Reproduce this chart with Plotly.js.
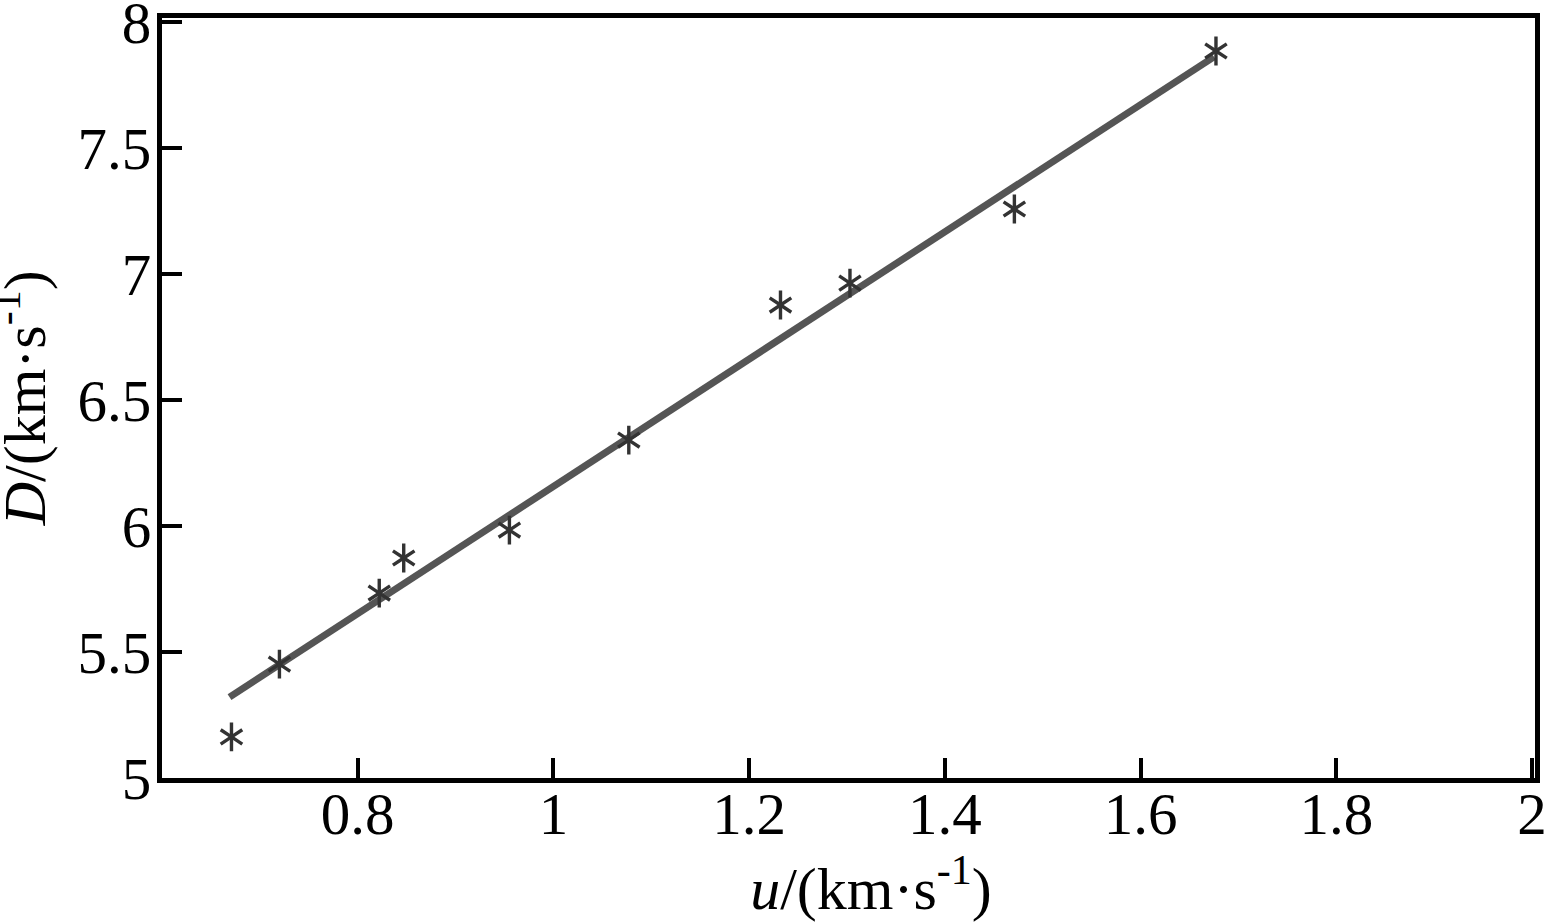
<!DOCTYPE html>
<html>
<head>
<meta charset="utf-8">
<script src="https://cdn.plot.ly/plotly-3.0.1.min.js"></script>
<style>
  html, body { margin: 0; padding: 0; background: #fff; }
  #chart { width: 1549px; height: 923px; }
</style>
</head>
<body>
<div id="chart"></div>
<script>
// measured points: particle velocity u vs shock velocity D
const uVals = [0.671, 0.720, 0.822, 0.847, 0.955, 1.077, 1.232, 1.303, 1.471, 1.677];
const dVals = [5.163, 5.452, 5.734, 5.873, 5.984, 6.341, 6.877, 6.964, 7.258, 7.885];

// linear fit, drawn between its two end points
const fitU = [0.669, 1.675];
const fitD = [5.321, 7.862];

const xTicks = [0.8, 1, 1.2, 1.4, 1.6, 1.8, 2];
const xTickText = ['0.8', '1', '1.2', '1.4', '1.6', '1.8', '2'];
const yTicks = [5, 5.5, 6, 6.5, 7, 7.5, 8];
const yTickText = ['5', '5.5', '6', '6.5', '7', '7.5', '8'];

const serif = 'Liberation Serif, Times New Roman, serif';
const starColor = '#333333';

// a six-armed asterisk made from the two "y" symbols laid over each other
function starTrace(symbol) {
    return {
        type: 'scatter',
        mode: 'markers',
        x: uVals,
        y: dVals,
        marker: {
            symbol: symbol,
            size: 18,
            color: starColor,
            line: { width: 3.4, color: starColor }
        },
        hoverinfo: 'x+y'
    };
}

const traces = [
    {
        type: 'scatter',
        mode: 'lines',
        x: fitU,
        y: fitD,
        line: { width: 7, color: '#555555' },
        hoverinfo: 'none'
    },
    starTrace('y-up'),
    starTrace('y-down')
];

const axisCommon = {
    showgrid: false,
    zeroline: false,
    showline: true,
    linecolor: '#000',
    linewidth: 5,
    mirror: true,
    ticks: 'inside',
    ticklen: 20,
    tickwidth: 4,
    tickcolor: '#000',
    ticklabeloverflow: 'allow',
    tickfont: { family: serif, size: 59, color: '#000' }
};

const layout = {
    width: 1549,
    height: 923,
    paper_bgcolor: '#fff',
    plot_bgcolor: '#fff',
    margin: { l: 162, r: 14, t: 18, b: 145 },
    showlegend: false,
    xaxis: Object.assign({}, axisCommon, {
        range: [0.6, 2.003],
        tickvals: xTicks,
        ticktext: xTickText,
        ticklabelstandoff: -20,
        title: {
            text: '&nbsp;&nbsp;&nbsp;<i>u</i>/(km·s<sup>-1</sup>)',
            font: { family: serif, size: 60, color: '#000' },
            standoff: 10
        }
    }),
    yaxis: Object.assign({}, axisCommon, {
        range: [5, 8.016],
        tickvals: yTicks,
        ticktext: yTickText,
        ticklabelstandoff: -6
    }),
    // y title as an annotation so it can sit closer to the page edge
    annotations: [{
        text: '<i>D</i>/(km·s<sup>-1</sup>)',
        xref: 'paper',
        yref: 'paper',
        x: -0.093,
        y: 0.5,
        xanchor: 'center',
        yanchor: 'middle',
        xshift: -14,
        textangle: -90,
        showarrow: false,
        font: { family: serif, size: 60, color: '#000' }
    }]
};

Plotly.newPlot('chart', traces, layout, { displayModeBar: false, staticPlot: true });
</script>
</body>
</html>
